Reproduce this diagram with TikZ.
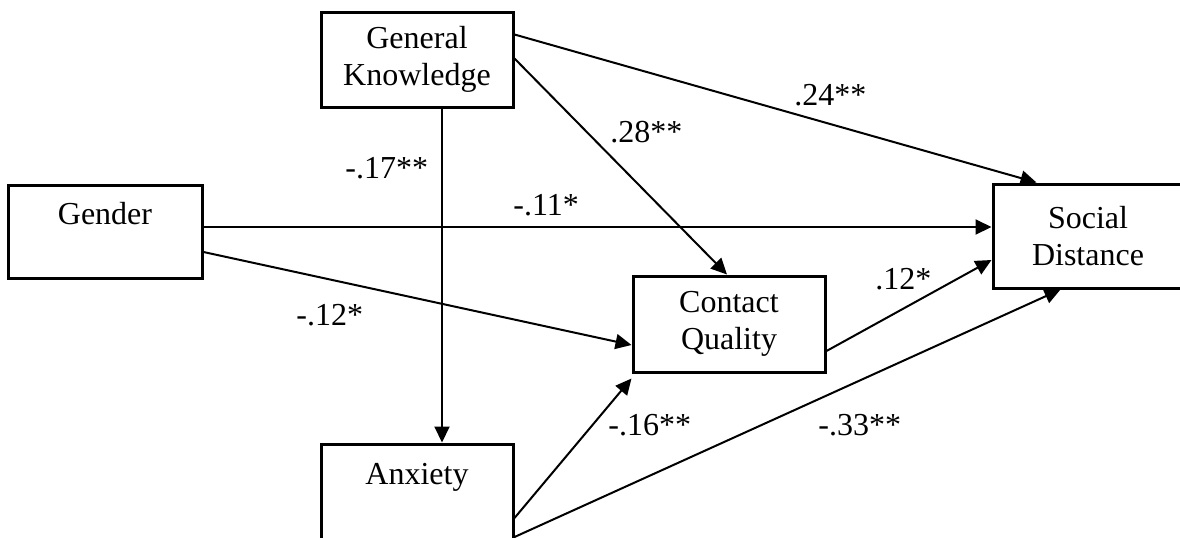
\documentclass[tikz,border=0pt]{standalone}
\usepackage{fontspec}
\setmainfont{Liberation Serif}
\usepackage{tikz}
\usetikzlibrary{positioning, arrows.meta, calc}

\tikzset{
  varbox/.style={draw, line width=1.5pt, inner sep=0pt, align=center,
                 minimum width=96pt, minimum height=48pt,
                 font=\fontsize{16pt}{18.5pt}\selectfont},
  effect/.style={line width=1pt, -{Triangle[length=8pt, width=7.5pt]}},
  coef/.style={inner sep=0pt, anchor=base west, font=\fontsize{16pt}{18.5pt}\selectfont}
}

\begin{document}
\begin{tikzpicture}[x=0.5pt, y=-0.5pt]
    \useasboundingbox (0,0) rectangle (1180,537);
    \clip (0,0) rectangle (1180,537);

    % variables
    \node[varbox, minimum height=47.5pt] (gk) at (417,59.5) {General\\Knowledge};
    \node[varbox, minimum width=97pt, minimum height=46.5pt] (gender) at (105,231.5) {Gender\\ \mbox{}};
    \node[varbox, minimum width=95pt, minimum height=52pt] (sd) at (1088,236) {Social\\Distance};
    \node[varbox] (cq) at (729,324) {Contact\\Quality};
    \node[varbox] (anx) at (417,492) {Anxiety\\ \mbox{}};

    % paths
    \draw[effect] ([yshift=-12pt]gk.north east) -- ([xshift=22.5pt]sd.north west);
    \draw[effect] ([yshift=-24pt]gk.north east) -- ([xshift=-1pt]cq.north);
    \draw[effect] ([xshift=12.5pt]gk.south) -- ([xshift=12.5pt]anx.north);
    \draw[effect] ([yshift=2.25pt]gender.east) -- ([yshift=4.5pt]sd.west);
    \draw[effect] ([yshift=-10.25pt]gender.east) -- ([yshift=-10.5pt]cq.west);
    \draw[effect] ([yshift=-13.5pt]cq.east) -- ([yshift=-12pt]sd.west);
    \draw[effect] ([yshift=-13pt]anx.east) -- ([yshift=-2.5pt]cq.south west);
    \draw[effect] ([yshift=-22.5pt]anx.east) -- ([xshift=34.5pt]sd.south west);

    % coefficients
    \node[coef] (c24) at (794,105) {.24**};
    \node[coef] (c28) at (610,142) {.28**};
    \node[coef] (c17) at (345,178) {-.17**};
    \node[coef] (c11) at (513,215) {-.11*};
    \node[coef] (c12a) at (296,325) {-.12*};
    \node[coef] (c12b) at (875,289) {.12*};
    \node[coef] (c16) at (608,435) {-.16**};
    \node[coef] (c33) at (818,435) {-.33**};
\end{tikzpicture}
\end{document}
